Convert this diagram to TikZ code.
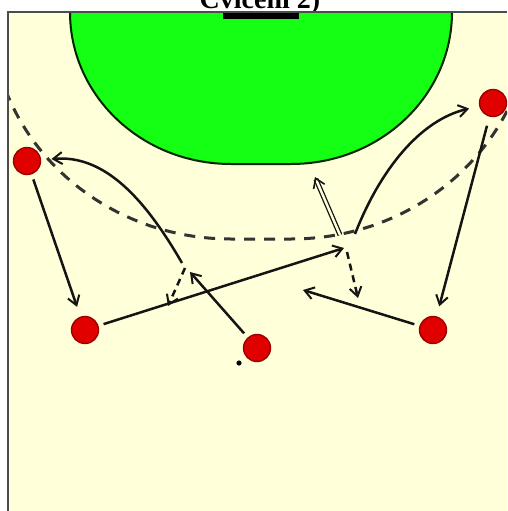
\documentclass[tikz,border=0pt]{standalone}
\usepackage{fontspec}
\setmainfont{Liberation Serif}
\usetikzlibrary{arrows.meta}
\definecolor{court}{HTML}{FFFFD9}
\definecolor{goalgreen}{HTML}{14FF14}
\definecolor{pred}{HTML}{E00000}
\definecolor{pdark}{HTML}{9A0000}
\definecolor{lineclr}{HTML}{141414}
\begin{document}
\begin{tikzpicture}[x=1pt,y=-1pt,
  player/.style={circle,fill=pred,draw=pdark,line width=1.4pt,minimum size=27pt,inner sep=0pt,outer sep=6pt},
  move/.style={draw=lineclr,line width=2.5pt,-{Straight Barb[length=9pt,width=12pt,line width=2pt]}},
  dmove/.style={move,dash pattern=on 7pt off 5pt},
  nineline/.style={draw=black!80,line width=3pt,dash pattern=on 11pt off 9pt},
  shotarrow/.style={draw=lineclr,line width=1.3pt,double=court,double distance=2.4pt,-{Straight Barb[length=9pt,width=12pt,line width=1.6pt]}}]
\useasboundingbox (0,0) rectangle (507,511);
\clip (0,0) rectangle (507,511);
\fill[white] (0,0) rectangle (507,511);
\fill[court] (8,12) rectangle (507,511);
\node[font=\bfseries\fontsize{28}{30}\selectfont,anchor=base,inner sep=0pt] (title) at (260,9) {Cvičení 2)};
% goal area
\draw[fill=goalgreen,draw=black!85!green,line width=2pt]
  (70,12) .. controls (70,96) and (142,164) .. (231,164) -- (291,164)
  .. controls (380,164) and (452,96) .. (452,12);
\fill[black] (223,12) rectangle (299,19);
% 9 m line
\begin{scope}
\clip (8,12) rectangle (507,511);
\draw[nineline] (-9,12) .. controls (-9,137) and (98,239) .. (231,239) -- (291,239)
  .. controls (424,239) and (531,137) .. (531,12);
\end{scope}
% court border
\draw[black!70,line width=2.5pt] (8,511) -- (8,12) -- (507,12);
% players
\node[player] (p1) at (27,161) {};
\node[player] (p2) at (85,330) {};
\node[player] (p3) at (257,348) {};
\node[player] (p4) at (433,330) {};
\node[player] (p5) at (493,103) {};
\fill[black] (239,363) circle (2.6pt);
% junction points
\coordinate (l1) at (190,272);
\coordinate (l2) at (182,263);
\coordinate (l3) at (185,268);
\coordinate (l4) at (168,306);
\coordinate (r1) at (344,248);
\coordinate (r2) at (303,290);
\coordinate (r3) at (347,252);
\coordinate (r4) at (358,298);
\coordinate (r5) at (355,234);
\coordinate (s1) at (340,235);
\coordinate (s2) at (315,177);
% movements
\draw[move,shorten >=5pt] (p1) -- (p2);
\draw[move] (p2) -- (r1);
\draw[move] (p3) -- (l1);
\draw[move,shorten >=5pt] (l2) .. controls (140,190) and (100,155) .. (p1);
\draw[dmove] (l3) -- (l4);
\draw[move] (p4) -- (r2);
\draw[dmove] (r3) -- (r4);
\draw[move,shorten >=5pt] (r5) .. controls (380,170) and (420,120) .. (p5);
\draw[move,shorten <=4pt,shorten >=5pt] (p5) -- (p4);
\draw[shotarrow] (s1) -- (s2);
\end{tikzpicture}
\end{document}
